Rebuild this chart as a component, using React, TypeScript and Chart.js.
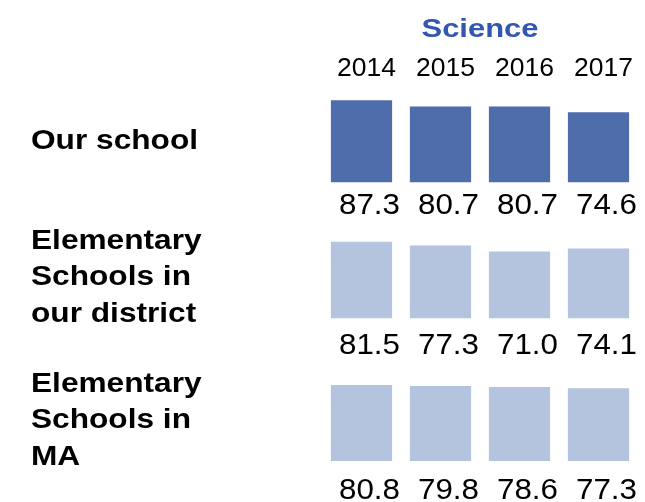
import React, { useEffect, useRef } from "react";
import { Chart, registerables } from "chart.js";

Chart.register(...registerables);

// ---- data ----
const chartTitle = "Science";
const years = ["2014", "2015", "2016", "2017"];
const groupLines = [
  ["Our school"],
  ["Elementary", "Schools in", "our district"],
  ["Elementary", "Schools in", "MA"],
];
const ourSchool = [87.3, 80.7, 80.7, 74.6];
const districtSchools = [81.5, 77.3, 71.0, 74.1];
const maSchools = [80.8, 79.8, 78.6, 77.3];

// ---- styles / layout ----
const FONT = '"Liberation Sans", Arial, Helvetica, sans-serif';
const seriesList = [ourSchool, districtSchools, maSchools];
const seriesColors = ["#4f6cab", "#b4c4de", "#b4c4de"];
const titleColor = "#3157b0";
// each row's own y range (px per unit kept equal through stackWeight = range)
const rowRanges = [
  { min: -50.7, max: 100.3 },
  { min: -55.0, max: 93.9 },
  { min: -43.6, max: 96.8 },
];
const valueDy = [32, 36, 38];

function drawText(
  ctx: CanvasRenderingContext2D,
  text: string,
  x: number,
  y: number,
  align: CanvasTextAlign,
  sx: number
) {
  ctx.save();
  ctx.translate(x, y);
  ctx.scale(sx, 1);
  ctx.textAlign = align;
  ctx.textBaseline = "alphabetic";
  ctx.fillText(text, 0, 0);
  ctx.restore();
}

const labelsPlugin = {
  id: "customLabels",
  afterDraw(chart: any) {
    const ctx: CanvasRenderingContext2D = chart.ctx;
    const xs = chart.scales.x;
    const area = chart.chartArea;
    ctx.save();
    // title
    ctx.fillStyle = titleColor;
    ctx.font = `bold 26px ${FONT}`;
    drawText(ctx, chartTitle, (area.left + area.right) / 2, 37, "center", 1.19);
    // years
    ctx.fillStyle = "#000";
    ctx.font = `26px ${FONT}`;
    years.forEach((y, i) => {
      drawText(ctx, y, xs.getPixelForValue(i) + 5, 76, "center", 1.02);
    });
    // rows
    seriesList.forEach((vals, r) => {
      const ys = chart.scales["y" + r];
      const base = ys.getPixelForValue(0);
      ctx.font = `29px ${FONT}`;
      vals.forEach((v, i) => {
        drawText(ctx, v.toFixed(1), xs.getPixelForValue(i) + 8, base + valueDy[r], "center", 1.08);
      });
      ctx.font = `bold 28px ${FONT}`;
      const lines = groupLines[r];
      lines.forEach((l, k) => {
        drawText(ctx, l, 31, base - 33 + (k - (lines.length - 1) / 2) * 36.5, "left", 1.13);
      });
    });
    ctx.restore();
  },
};

export default function App() {
  const ref = useRef<HTMLCanvasElement>(null);
  useEffect(() => {
    if (!ref.current) return;
    const scales: any = {
      x: { type: "category", display: false, offset: true, grid: { display: false } },
    };
    rowRanges.forEach((rg, r) => {
      scales["y" + r] = {
        type: "linear",
        display: false,
        position: "right",
        stack: "rows",
        stackWeight: rg.max - rg.min,
        weight: r,
        min: rg.min,
        max: rg.max,
        grid: { display: false },
      };
    });
    const chart = new Chart(ref.current, {
      type: "bar",
      data: {
        labels: years,
        datasets: seriesList.map((vals, r) => ({
          label: groupLines[r].join(" "),
          data: vals,
          yAxisID: "y" + r,
          backgroundColor: seriesColors[r],
          borderWidth: 0,
          grouped: false,
          barPercentage: 0.775,
          categoryPercentage: 1,
        })),
      },
      options: {
        responsive: false,
        animation: false,
        devicePixelRatio: 1,
        layout: { padding: { top: 88, left: 322, right: 7, bottom: 0 } },
        plugins: { legend: { display: false }, tooltip: { enabled: false }, title: { display: false } },
        scales,
      },
      plugins: [labelsPlugin],
    } as any);
    return () => chart.destroy();
  }, []);
  return (
    <div style={{ position: "absolute", left: 0, top: 0, width: 645, height: 502, background: "#fff" }}>
      <canvas ref={ref} width={645} height={502} />
    </div>
  );
}
